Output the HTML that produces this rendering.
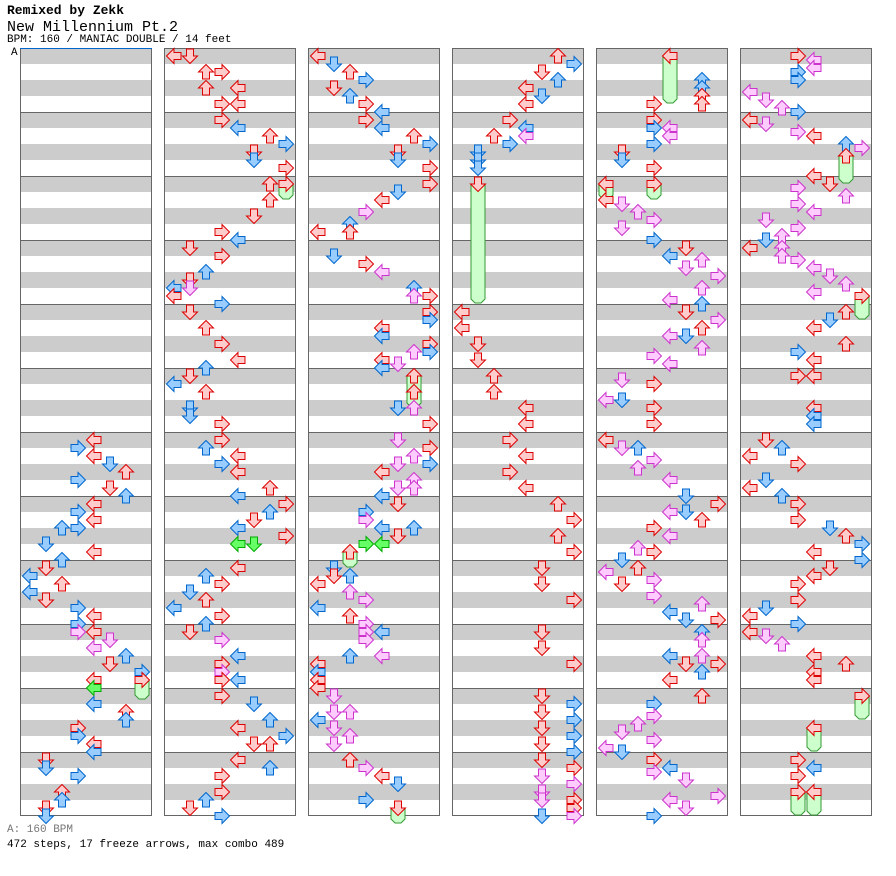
<!DOCTYPE html>
<html><head><meta charset="utf-8"><style>
body{margin:0;background:#fff;width:896px;height:876px;overflow:hidden;font-family:"Liberation Mono","DejaVu Sans Mono",monospace;}
.t{position:absolute;left:7px;white-space:pre;color:#000}
</style></head><body>
<div class="t" style="top:3px;font-size:13px;font-weight:bold">Remixed by Zekk</div>
<div class="t" style="top:19px;font-size:15px">New Millennium Pt.2</div>
<div class="t" style="top:34px;font-size:11px">BPM: 160 / MANIAC DOUBLE / 14 feet</div>
<div class="t" style="top:47px;left:11px;font-size:11px">A</div>
<div class="t" style="top:824px;font-size:11px;color:#777">A: 160 BPM</div>
<div class="t" style="top:839px;font-size:11px">472 steps, 17 freeze arrows, max combo 489</div>
<svg id="s" width="896" height="876" style="position:absolute;left:0;top:0"></svg>
<script>
var s=document.getElementById('s'),h='';
for(var c=0;c<6;c++){var x=20+144*c;
 h+='<rect x="'+x+'" y="48" width="132" height="768" fill="#fff"/>';
 for(var m=0;m<12;m++){var y=48+64*m;h+='<rect x="'+x+'" y="'+y+'" width="132" height="16" fill="#ccc"/><rect x="'+x+'" y="'+(y+32)+'" width="132" height="16" fill="#ccc"/>';
  if(m>0)h+='<line x1="'+x+'" x2="'+(x+132)+'" y1="'+(y+.5)+'" y2="'+(y+.5)+'" stroke="#666"/>';}
 h+='<rect x="'+(x+.5)+'" y="48.5" width="131" height="767" fill="none" stroke="#666"/>';}
h+='<line x1="20" x2="152" y1="48.5" y2="48.5" stroke="#06c"/>';
var C={r:['#fcc','#d00'],b:['#9cf','#06c'],p:['#fcf','#c3c'],g:['#6f6','#0a0']};
var D="94,440,r 78,448,b 94,456,r 110,464,b 126,472,r 78,480,b 110,488,r 126,496,b 94,504,r 78,512,b 94,520,r 62,528,b 78,528,b 46,544,b 94,552,r 62,560,b 46,568,r 30,576,b 62,584,r 30,592,b 46,600,r 78,608,b 94,616,r 78,624,b 78,632,p 94,632,r 110,640,p 94,648,p 126,656,b 110,664,r 142,672,b 94,680,r 142,680,r,692 94,688,g 94,704,b 126,712,r 126,720,b 78,728,r 78,736,b 94,744,r 94,752,b 46,760,r 46,768,b 78,776,b 62,792,r 62,800,b 46,808,r 46,816,b "+
"174,56,r 190,56,r 206,72,r 222,72,r 206,88,r 238,88,r 222,104,r 238,104,r 222,120,r 238,128,b 270,136,r 286,144,b 254,152,r 254,160,b 286,168,r 270,184,r 286,184,r,192 270,200,r 254,216,r 222,232,r 238,240,b 190,248,r 222,256,r 206,272,b 190,280,r 174,288,b 190,288,p 174,296,r 222,304,b 190,312,r 206,328,r 222,344,r 238,360,r 206,368,b 174,384,b 190,376,r 206,392,r 190,408,b 190,416,b 222,424,r 222,440,r 206,448,b 238,456,r 222,464,b 238,472,r 270,488,r 238,496,b 286,504,r 270,512,b 254,520,r 238,528,b 286,536,r 238,544,g 254,544,g 238,568,r 206,576,b 222,584,r 190,592,b 206,600,r 174,608,b 222,616,r 206,624,b 190,632,r 222,640,p 238,656,b 222,664,r 222,672,p 222,680,r 238,680,b 222,696,r 254,704,b 270,720,b 238,728,r 286,736,b 254,744,r 270,744,r 238,760,r 222,776,r 270,768,b 222,792,r 206,800,b 190,808,r 222,816,b "+
"318,56,r 334,64,b 350,72,r 366,80,b 334,88,r 350,96,b 366,104,r 382,112,b 366,120,r 382,128,b 414,136,r 430,144,b 398,152,r 398,160,b 430,168,r 430,184,r 398,192,b 382,200,r 366,212,p 350,224,b 350,232,r 318,232,r 334,256,b 366,264,r 382,272,p 414,288,b 430,296,r 414,296,p 430,312,r 430,320,b 382,328,r 382,336,b 430,344,r 414,352,p 430,352,b 382,360,r 398,364,p 382,368,b 414,376,r,400 414,392,r 398,408,b 414,408,p 430,424,r 398,440,p 430,448,r 414,456,p 398,464,p 430,464,b 382,472,r 414,480,p 398,488,p 414,488,p 382,496,b 398,504,r 366,512,b 366,520,p 382,528,b 414,528,b 398,536,r 382,544,g 366,544,g 350,552,r,560 334,568,b 350,576,b 318,584,r 334,576,r 350,592,p 366,600,p 318,608,b 350,616,r 366,624,p 382,632,b 366,632,p 366,640,p 350,656,b 382,656,p 318,664,r 318,672,b 318,680,r 318,688,r 334,696,p 350,712,p 334,712,p 318,720,b 334,728,p 350,736,p 334,744,p 350,760,r 366,768,p 382,776,r 398,784,b 366,800,b 398,808,r,816 "+
"558,56,r 574,64,b 542,72,r 558,80,b 526,88,r 542,96,b 526,104,r 510,120,r 526,128,b 494,136,r 526,136,p 510,144,b 478,152,b 478,160,b 478,168,b 478,184,r,296 462,312,r 462,328,r 478,344,r 478,360,r 494,376,r 494,392,r 526,408,r 526,424,r 510,440,r 526,456,r 510,472,r 526,488,r 558,504,r 574,520,r 558,536,r 574,552,r 542,568,r 542,584,r 574,600,r 542,632,r 542,648,r 574,664,r 542,696,r 574,704,b 542,712,r 574,720,b 542,728,r 574,736,b 542,744,r 574,752,b 542,760,r 574,768,r 542,776,p 574,784,p 542,792,p 574,800,r 542,800,p 574,808,r 542,816,b 574,816,p "+
"670,56,r,96 702,80,b 702,88,b 702,96,r 702,104,r 654,104,r 654,120,r 670,128,p 654,128,b 670,136,p 654,144,b 622,152,r 622,160,b 654,168,r 606,184,r,192 654,184,r,192 606,200,r 622,204,p 638,212,p 654,220,p 622,228,p 654,240,b 686,248,r 670,256,b 702,260,p 686,268,p 718,276,p 702,288,p 670,300,p 702,304,b 686,312,r 718,320,p 702,328,r 670,336,p 686,336,b 702,348,p 654,356,p 670,364,p 622,380,p 654,384,r 606,400,p 622,400,b 654,408,r 654,424,r 606,440,r 622,448,p 638,448,b 654,460,p 638,468,p 670,480,p 686,496,b 718,504,r 670,512,p 686,512,b 702,520,r 654,528,r 670,536,p 638,548,p 654,552,r 622,560,b 638,568,r 606,572,p 622,584,r 654,580,p 654,596,p 670,612,b 702,604,p 686,620,b 718,620,r 702,632,b 702,640,p 670,656,b 702,656,p 686,664,r 718,664,r 702,672,b 670,680,r 702,696,r 654,704,b 654,716,p 638,724,p 622,732,p 654,740,p 606,748,p 622,752,b 654,760,r 654,772,p 670,768,b 686,780,p 718,796,p 670,800,p 686,808,p 654,816,b "+
"798,56,r 814,60,p 814,68,p 798,72,b 798,80,b 750,92,p 766,100,p 782,108,p 798,112,b 750,120,r 766,124,p 798,132,p 814,136,r 846,144,b 862,148,p 846,156,r,176 814,176,r 830,184,r 798,188,p 846,196,p 798,204,p 814,212,p 766,220,p 798,228,p 782,236,p 766,240,b 750,248,r 782,248,p 782,256,p 798,260,p 814,268,p 830,276,p 846,284,p 814,292,p 862,296,r,312 846,312,r 830,320,b 814,328,r 846,344,r 798,352,b 814,360,r 798,376,r 814,376,r 814,408,r 814,416,b 814,424,b 766,440,r 782,448,b 750,456,r 798,464,r 766,480,b 750,488,r 782,496,b 798,504,r 798,520,r 830,528,b 846,536,r 862,544,b 814,552,r 862,560,b 830,568,r 814,576,r 798,584,r 798,600,r 766,608,b 750,616,r 798,624,b 750,632,r 766,636,p 782,644,p 814,656,r 846,664,r 814,672,r 814,680,r 862,696,r,712 814,728,r,744 798,760,r 814,768,b 798,776,r 798,792,r,808 814,792,r,808";
var fz='',ar='';
D.split(' ').forEach(function(t){var a=t.split(','),x=+a[0],y=+a[1],col=Math.floor((x-20)/144),ln=Math.round((x-30-144*col)/16),cx=30+144*col+16*ln,k=C[a[2]];
 if(a[3]){var e=+a[3];fz+='<path d="M'+(cx-7)+','+y+' V'+(e+3)+' L'+(cx-3)+','+(e+7)+' H'+(cx+3)+' L'+(cx+7)+','+(e+3)+' V'+y+'Z" fill="#cfc" stroke="#393"/>';}
 var r=[-90,180,0,90][ln%4];
 ar+='<polygon transform="translate('+cx+','+y+') rotate('+r+')" points="0,-7.5 7.5,0 3.5,0 3.5,7 -3.5,7 -3.5,0 -7.5,0" fill="'+k[0]+'" stroke="'+k[1]+'" stroke-width="1"/>';});
s.innerHTML=h+fz+ar;
</script>
</body></html>
